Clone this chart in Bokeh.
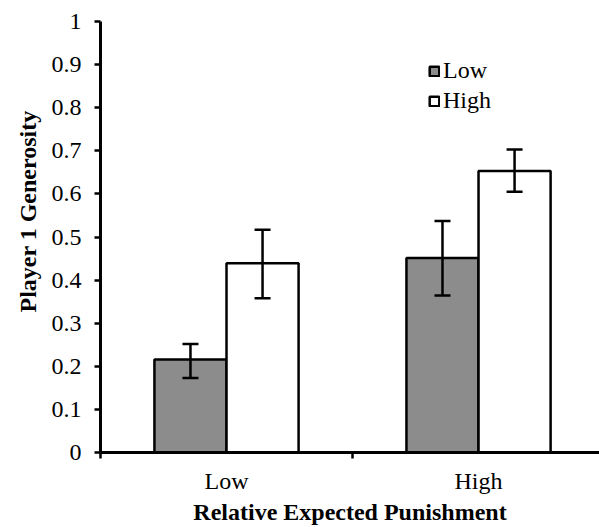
from bokeh.plotting import figure
from bokeh.models import (ColumnDataSource, Range1d, FixedTicker, Whisker, TeeHead,
                          Legend, LegendItem, Title)
from bokeh.embed import file_html
from bokeh.resources import INLINE

# ---- data ----
categories = ["Low", "High"]               # Relative Expected Punishment
series = ["Low", "High"]                   # legend entries
low_vals = [0.216, 0.451]
low_err_lo = [0.173, 0.364]
low_err_hi = [0.252, 0.537]
high_vals = [0.439, 0.653]
high_err_lo = [0.358, 0.605]
high_err_hi = [0.517, 0.703]
y_ticks = [0, 0.1, 0.2, 0.3, 0.4, 0.5, 0.6, 0.7, 0.8, 0.9, 1.0]
y_tick_labels = ["0", "0.1", "0.2", "0.3", "0.4", "0.5", "0.6", "0.7", "0.8", "0.9", "1"]

FONT = "Liberation Serif"
FS = "24px"
BAR_W = 0.286
centers = [i + 0.5 for i in range(len(categories))]

src_low = ColumnDataSource(dict(x=[c - BAR_W / 2 for c in centers], top=low_vals,
                                lower=low_err_lo, upper=low_err_hi))
src_high = ColumnDataSource(dict(x=[c + BAR_W / 2 for c in centers], top=high_vals,
                                 lower=high_err_lo, upper=high_err_hi))

p = figure(width=599, height=527, output_backend="svg", toolbar_location=None,
           x_range=Range1d(0, 1.98), y_range=Range1d(0, 1),
           min_border_left=100, min_border_right=0, min_border_top=21, min_border_bottom=75)
p.outline_line_color = None
p.xgrid.visible = False
p.ygrid.visible = False
p.background_fill_color = "white"
p.border_fill_color = "white"

r_low = p.vbar(x="x", top="top", width=BAR_W, source=src_low,
               fill_color="#8c8c8c", line_color="black", line_width=2.5)
r_high = p.vbar(x="x", top="top", width=BAR_W, source=src_high,
                fill_color="white", line_color="black", line_width=2.5)

for src in (src_low, src_high):
    w = Whisker(source=src, base="x", upper="upper", lower="lower", dimension="height",
                line_color="black", line_width=2.5, level="annotation",
                upper_head=TeeHead(size=16, line_color="black", line_width=2.5),
                lower_head=TeeHead(size=16, line_color="black", line_width=2.5))
    p.add_layout(w)

# x axis
xa = p.xaxis[0]
xa.ticker = FixedTicker(ticks=centers, minor_ticks=[0, 1, 2])
xa.major_label_overrides = {c: lab for c, lab in zip(centers, categories)}
xa.major_tick_out = 0
xa.major_tick_in = 0
xa.minor_tick_out = 6
xa.minor_tick_in = 0
xa.minor_tick_line_color = "black"
xa.minor_tick_line_width = 2.5
xa.axis_line_color = "black"
xa.axis_line_width = 3
xa.major_label_text_font = FONT
xa.major_label_text_font_size = FS
xa.major_label_text_color = "black"
xa.major_label_standoff = 9
xa.axis_label = "Relative Expected Punishment"
xa.axis_label_text_font = FONT
xa.axis_label_text_font_style = "bold"
xa.axis_label_text_font_size = FS
xa.axis_label_text_color = "black"
xa.axis_label_standoff = 2

# y axis
ya = p.yaxis[0]
ya.ticker = FixedTicker(ticks=y_ticks, minor_ticks=[])
ya.major_label_overrides = {t: lab for t, lab in zip(y_ticks, y_tick_labels)}
ya.major_tick_out = 6
ya.major_tick_in = 0
ya.major_tick_line_color = "black"
ya.major_tick_line_width = 2.5
ya.axis_line_color = "black"
ya.axis_line_width = 3
ya.major_label_text_font = FONT
ya.major_label_text_font_size = FS
ya.major_label_text_color = "black"
ya.major_label_standoff = 13

ytitle = Title(text="Player 1 Generosity", text_font=FONT, text_font_style="bold",
               text_font_size=FS, text_color="black", align="left", offset=140,
               standoff=16)
p.add_layout(ytitle, "left")

legend = Legend(items=[LegendItem(label=series[0], renderers=[r_low]),
                       LegendItem(label=series[1], renderers=[r_high])],
                location=(328, 338), orientation="vertical",
                glyph_width=12, glyph_height=12, label_standoff=3, spacing=3,
                label_height=26, padding=0, margin=0,
                border_line_color=None, background_fill_alpha=0,
                label_text_font=FONT, label_text_font_size=FS, label_text_color="black")
p.add_layout(legend, "center")

open("out.html", "w").write(file_html(p, INLINE))
